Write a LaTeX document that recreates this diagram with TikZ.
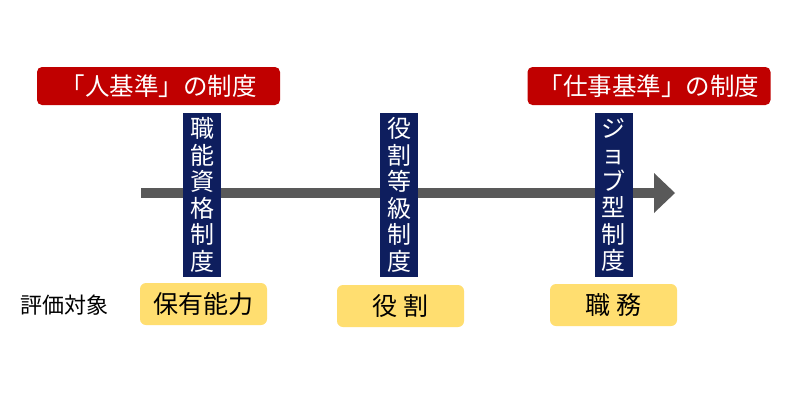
\documentclass[tikz,border=0pt]{standalone}
\usepackage{fontspec}
\setmainfont{Noto Sans CJK JP}
\definecolor{redbox}{RGB}{192,0,0}
\definecolor{navybar}{RGB}{14,30,94}
\definecolor{yellowbox}{RGB}{255,222,112}
\definecolor{arrowgray}{RGB}{89,89,89}
\tikzset{
  redlabel/.style={fill=redbox, text=white, rounded corners=5pt, inner sep=0pt,
    minimum width=243pt, minimum height=38pt, font=\fontsize{24.5}{26}\selectfont},
  navybox/.style={fill=navybar, text=white, inner sep=0pt, minimum width=38pt,
    minimum height=164pt, align=center, font=\fontsize{24}{26.5}\selectfont},
  yellowlabel/.style={fill=yellowbox, text=black, rounded corners=6pt, inner sep=0pt,
    minimum width=127pt, minimum height=42pt, font=\fontsize{25}{26}\selectfont},
  plainlabel/.style={text=black, inner sep=0pt, font=\fontsize{22}{24}\selectfont},
}
\begin{document}
\begin{tikzpicture}[x=1pt,y=-1pt]
\useasboundingbox[fill=white] (0,0) rectangle (800,400);
% arrow
\coordinate (as) at (141,193);
\coordinate (ae) at (655,193);
\coordinate (tip) at (675,193);
\draw[arrowgray, line width=10pt] (as) -- (ae);
\fill[arrowgray] (654,173) -- (tip) -- (654,213) -- cycle;
% red labels
\node[redlabel] (r1) at (158.5,86) {「人基準」の制度};
\node[redlabel] (r2) at (649,86) {「仕事基準」の制度};
% navy bars
\node[navybox] (b1) at (202,195) {職\\能\\資\\格\\制\\度};
\node[navybox] (b2) at (399,195) {役\\割\\等\\級\\制\\度};
\node[navybox] (b3) at (613.5,195) {ジ\\ョ\\ブ\\型\\制\\度};
% yellow labels
\node[yellowlabel] (y1) at (203.5,304) {保有能力};
\node[yellowlabel] (y2) at (400.5,306) {役 割};
\node[yellowlabel] (y3) at (613.5,305) {職 務};
\node[plainlabel] (e) at (64.5,305) {評価対象};
\end{tikzpicture}
\end{document}
